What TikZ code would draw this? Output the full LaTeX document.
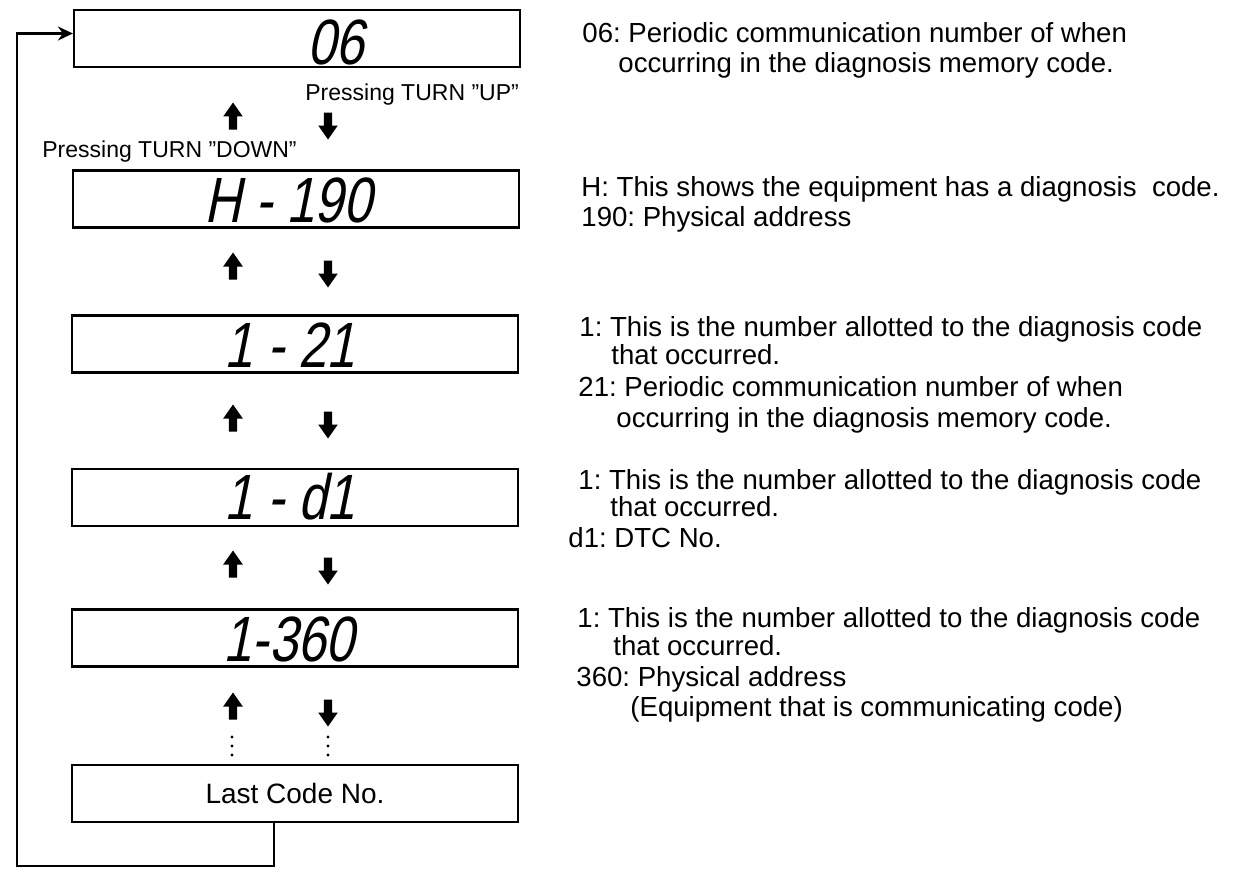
\documentclass[tikz,border=0pt]{standalone}
\usepackage{fontspec}
\setmainfont{Liberation Sans}
\newfontfamily\segfont[FakeSlant=0.2,FakeStretch=0.8]{Liberation Sans}
\usepackage{tikz}
\usetikzlibrary{calc,arrows.meta,shapes.arrows}
\frenchspacing
\tikzset{
  disp/.style={draw,line width=1.1pt,minimum width=223pt,minimum height=28.5pt,inner sep=0pt,font=\fontsize{14}{16}\selectfont},
  seg/.style={font=\segfont\fontsize{32}{32}\selectfont,inner sep=0pt},
  note/.style={anchor=base west,inner sep=0pt,font=\fontsize{13.8}{16}\selectfont},
  press/.style={anchor=base west,inner sep=0pt,font=\fontsize{11.5}{13}\selectfont},
  blk/.style={single arrow,fill=black,inner xsep=0pt,inner ysep=1.9pt,minimum height=13.5pt,single arrow head extend=2.8pt,single arrow tip angle=70},
  uparr/.style={blk,rotate=90},
  dnarr/.style={blk,rotate=-90},
  fb/.style={line width=1.1pt,-{Stealth[length=7.5pt,width=7pt]}}
}
\begin{document}
\begin{tikzpicture}[x=0.5pt,y=-0.5pt]
\useasboundingbox (0,0) rectangle (1248,878);
% display boxes
\node[disp] (b06) at (297,38.5) {};
\node[disp] (bH) at (296,199) {};
\node[disp] (b21) at (295,344) {};
\node[disp] (bd1) at (295,497.5) {};
\node[disp] (b360) at (295,638) {};
\node[disp] (blast) at (295,793.5) {Last Code No.};
\node[seg] (s06) at (336,42) {06};
\node[seg] (sH) at (288,200) {H - 190};
\node[seg] (s21) at (290,345) {1 - 21};
\node[seg] (sd1) at (290,497) {1 - d1};
\node[seg] (s360) at (289,639) {1-360};
% turn arrows
\node[press] (pup) at (305,100) {Pressing TURN "UP"};
\node[press] (pdn) at (42,157) {Pressing TURN "DOWN"};
\node[uparr] (u1) at (233,119) {};
\node[dnarr] (d1) at (328,123) {};
\node[uparr] (u2) at (233,269) {};
\node[dnarr] (d2) at (328,271) {};
\node[uparr] (u3) at (233,421) {};
\node[dnarr] (d3) at (328,422) {};
\node[uparr] (u4) at (233,567) {};
\node[dnarr] (d4) at (328,568) {};
\node[uparr] (u5) at (233,709) {};
\node[dnarr] (d5) at (328,710) {};
\foreach \y in {737,746,755} {
  \fill (232,\y) circle (0.85pt);
  \fill (328,\y) circle (0.85pt);
}
% back to the first code
\coordinate (fbl) at (17,866);
\draw[fb] ($(blast.south west)!0.454!(blast.south east)$) |- (fbl) |- ($(b06.west)+(0,-5)$);
% explanations
\node[note] (n06a) at (582,42) {06: Periodic communication number of when};
\node[note] (n06b) at (618,72) {occurring in the diagnosis memory code.};
\node[note] (nHa) at (581,196) {H: This shows the equipment has a diagnosis\ \ code.};
\node[note] (nHb) at (581,226) {190: Physical address};
\node[note] (n21a) at (579,336) {1: This is the number allotted to the diagnosis code};
\node[note] (n21b) at (611,364) {that occurred.};
\node[note] (n21c) at (578,396) {21: Periodic communication number of when};
\node[note] (n21d) at (616,427) {occurring in the diagnosis memory code.};
\node[note] (nd1a) at (578,489) {1: This is the number allotted to the diagnosis code};
\node[note] (nd1b) at (610,516) {that occurred.};
\node[note] (nd1c) at (568,547) {d1: DTC No.};
\node[note] (n360a) at (577,627) {1: This is the number allotted to the diagnosis code};
\node[note] (n360b) at (613,655) {that occurred.};
\node[note] (n360c) at (576,686) {360: Physical address};
\node[note] (n360d) at (630,716) {(Equipment that is communicating code)};
\end{tikzpicture}
\end{document}
